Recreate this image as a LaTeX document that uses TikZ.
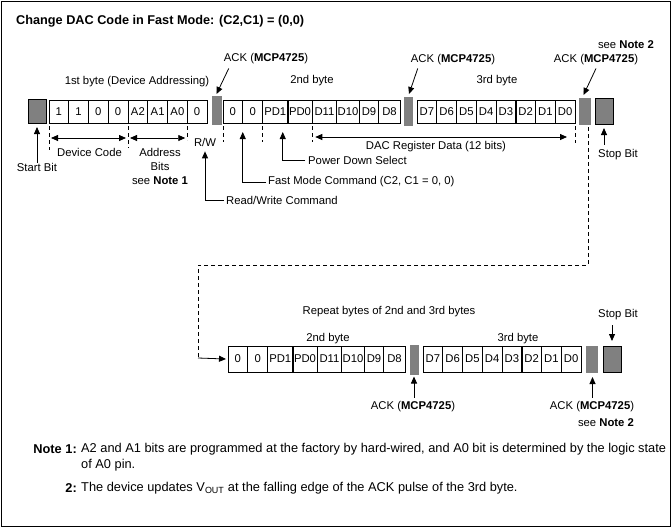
\documentclass[tikz,border=0pt]{standalone}
\usepackage{fontspec}
\setmainfont{Liberation Sans}
\usepackage{tikz}
\usetikzlibrary{arrows.meta,positioning}

\definecolor{slotgray}{RGB}{128,128,128}

\begin{document}
\begin{tikzpicture}[x=1pt,y=-1pt,
		every node/.style={font=\fontsize{11.3}{13}\selectfont, inner sep=0pt},
		bit/.style={draw, line width=0.8pt, outer sep=0pt, minimum width=19.75pt, minimum height=23pt},
		rbit/.style={bit, minimum height=26pt},
		slot/.style={fill=slotgray, draw=slotgray, line width=0.8pt, outer sep=0pt},
		tip/.style={-{Triangle[length=7pt,width=6pt]}, line width=0.8pt},
		both/.style={{Triangle[length=7pt,width=6pt]}-{Triangle[length=7pt,width=6pt]}, line width=0.8pt},
		tick/.style={line width=0.8pt, dash pattern=on 4pt off 3pt},
		notefont/.style={font=\fontsize{12.8}{15}\selectfont}]
	\useasboundingbox (0,0) rectangle (672,528);
	\draw[line width=1pt] (1,1) rectangle (670,526);

	\node[anchor=west, font=\fontsize{12.7}{15}\selectfont\bfseries] (title) at (16,21) {Change DAC Code in Fast Mode: (C2,C1) = (0,0)};

	% first frame
	\node[slot, draw=black, minimum width=18pt, minimum height=24pt] (start) at (37,111) {};
	\node[bit, anchor=west] (dc3) at (49,111.5) {1};
	\node[bit, right=0pt of dc3] (dc2) {1};
	\node[bit, right=0pt of dc2] (dc1) {0};
	\node[bit, right=0pt of dc1] (dc0) {0};
	\node[bit, right=0pt of dc0] (a2) {A2};
	\node[bit, right=0pt of a2] (a1) {A1};
	\node[bit, right=0pt of a1] (a0) {A0};
	\node[bit, right=0pt of a0] (rw) {0};
	\node[slot, minimum width=9pt, minimum height=28pt] (acka) at (216.5,110) {};

	\node[bit, anchor=west] (c2) at (223,111.5) {0};
	\node[bit, right=0pt of c2, minimum width=20pt] (c1) {0};
	\node[bit, right=0pt of c1, minimum width=25pt] (pd1) {PD1};
	\node[bit, right=0pt of pd1, minimum width=24.5pt] (pd0) {PD0};
	\node[bit, right=0pt of pd0, minimum width=24.5pt] (d11) {D11};
	\node[bit, right=0pt of d11, minimum width=22.5pt] (d10) {D10};
	\node[bit, right=0pt of d10, minimum width=19.5pt] (d9) {D9};
	\node[bit, right=0pt of d9, minimum width=21.5pt] (d8) {D8};
	\node[slot, minimum width=8pt, minimum height=28pt] (ackb) at (408,111) {};

	\node[bit, anchor=west] (d7) at (417,111.5) {D7};
	\node[bit, right=0pt of d7] (d6) {D6};
	\node[bit, right=0pt of d6] (d5) {D5};
	\node[bit, right=0pt of d5] (d4) {D4};
	\node[bit, right=0pt of d4] (d3) {D3};
	\node[bit, right=0pt of d3] (d2) {D2};
	\node[bit, right=0pt of d2] (d1) {D1};
	\node[bit, right=0pt of d1] (d0) {D0};
	\node[slot, minimum width=11pt, minimum height=26pt] (ackc) at (584.5,111) {};
	\node[slot, draw=black, minimum width=18pt, minimum height=26pt] (stop) at (604,111) {};

	\draw[line width=1.6pt] (pd1.north east) -- (pd1.south east);
	\draw[line width=1.6pt] (d3.north east) -- (d3.south east);

	% labels above
	\node (byte1) at (137,82) {1st byte (Device Addressing)};
	\node (byte2) at (312,81) {2nd byte};
	\node (byte3) at (497,81) {3rd byte};
	\node (acklbla) at (266,59) {ACK (\textbf{MCP4725})};
	\node (acklblb) at (453,60) {ACK (\textbf{MCP4725})};
	\node (acklblc) at (596,60) {ACK (\textbf{MCP4725})};
	\node (note2a) at (626,45) {see \textbf{Note 2}};

	\draw[tip] ([xshift=5pt,yshift=-4pt]acklbla.south west) -- ([yshift=2pt]acka.north);
	\draw[tip] ([xshift=7pt,yshift=-3pt]acklblb.south west) -- ([xshift=1pt,yshift=3pt]ackb.north);
	\draw[tip] ([yshift=-3pt]acklblc.south) -- ([xshift=-1pt,yshift=3pt]ackc.north);

	% labels below
	\node (startlbl) at (37,167) {Start Bit};
	\draw[tip] (startlbl.north) -- ([yshift=-4pt]start.south);

	\draw[tick] ([yshift=-3pt]dc3.south west) -- ++(0,24);
	\draw[tick] ([yshift=-3pt]dc0.south east) -- ++(0,22);
	\draw[tick] ([yshift=-3pt]rw.south west) -- ++(0,14);
	\draw[both] ([xshift=2pt,yshift=-15pt]dc3.south west) -- ([xshift=-2pt,yshift=-15pt]dc0.south east);
	\draw[both] ([xshift=2pt,yshift=-15pt]a2.south west) -- ([xshift=-2pt,yshift=-15pt]a0.south east);
	\node (devcode) at (89.5,152) {Device Code};
	\node[align=center, font=\fontsize{11.3}{14}\selectfont] (addr) at (160,166) {Address\\Bits\\see \textbf{Note 1}};

	\node (rwlbl) at (205,142) {R/W};
	\node[anchor=west] (rwcmd) at (226,200) {Read/Write Command};
	\draw[tip] ([xshift=-2pt]rwcmd.west) -| ([yshift=-5pt]rwlbl.south);

	\draw[tick] ([yshift=-3pt]c2.south west) -- ++(0,16);
	\draw[tick] ([yshift=-3pt]pd1.south west) -- ++(0,16);
	\draw[tick] ([yshift=-3pt]d11.south west) -- ++(0,16);
	\draw[tick] ([yshift=-3pt]d0.south east) -- ++(0,17);

	\node[anchor=west] (fastlbl) at (268,182) {Fast Mode Command (C2, C1 = 0, 0)};
	\draw[tip] ([xshift=-2pt]fastlbl.west) -| ([yshift=-9pt]c1.south west);
	\node[anchor=west] (pdlbl) at (308,160) {Power Down Select};
	\draw[tip] ([xshift=-3pt]pdlbl.west) -| ([xshift=-5pt,yshift=-9pt]pd1.south east);

	\draw[both] ([xshift=3pt,yshift=-14pt]d11.south west) -- ([xshift=-8pt,yshift=-14pt]d0.south east);
	\node (daclbl) at (436,147) {DAC Register Data (12 bits)};

	\node (stoplbl) at (618,155) {Stop Bit};
	\draw[tip] ([yshift=5pt]stop.south |- stoplbl.north) -- ([yshift=-4pt]stop.south);

	% back to the repeated bytes
	\coordinate (back) at (198,358);
	\draw[tick] ([xshift=-2pt,yshift=-3pt]ackc.south east) -- ++(0,138) -| (back);

	% second frame
	\node (repeat) at (389,312) {Repeat bytes of 2nd and 3rd bytes};
	\node (rbyte2) at (328,339) {2nd byte};
	\node (rbyte3) at (518,339) {3rd byte};

	\node[rbit, anchor=west] (rc2) at (228,359) {0};
	\node[rbit, right=0pt of rc2, minimum width=20pt] (rc1) {0};
	\node[rbit, right=0pt of rc1, minimum width=25pt] (rpd1) {PD1};
	\node[rbit, right=0pt of rpd1, minimum width=24.5pt] (rpd0) {PD0};
	\node[rbit, right=0pt of rpd0, minimum width=24.5pt] (rd11) {D11};
	\node[rbit, right=0pt of rd11, minimum width=22.5pt] (rd10) {D10};
	\node[rbit, right=0pt of rd10, minimum width=19.5pt] (rd9) {D9};
	\node[rbit, right=0pt of rd9, minimum width=21.5pt] (rd8) {D8};
	\node[slot, minimum width=8pt, minimum height=29pt] (rackb) at (414,360) {};

	\node[rbit, anchor=west] (rd7) at (423,359) {D7};
	\node[rbit, right=0pt of rd7] (rd6) {D6};
	\node[rbit, right=0pt of rd6] (rd5) {D5};
	\node[rbit, right=0pt of rd5] (rd4) {D4};
	\node[rbit, right=0pt of rd4] (rd3) {D3};
	\node[rbit, right=0pt of rd3] (rd2) {D2};
	\node[rbit, right=0pt of rd2] (rd1) {D1};
	\node[rbit, right=0pt of rd1] (rd0) {D0};
	\node[slot, minimum width=11pt, minimum height=26pt] (rackc) at (591.5,359) {};
	\node[slot, draw=black, minimum width=18pt, minimum height=26pt] (rstop) at (612,359) {};

	\draw[line width=1.6pt] (rpd1.north east) -- (rpd1.south east);
	\draw[line width=1.6pt] (rd3.north east) -- (rd3.south east);

	\draw[tip] (back) -- ([xshift=-2pt]rc2.west);

	\node (rstoplbl) at (618,315) {Stop Bit};
	\draw[tip] ([yshift=-5pt]rstop.north |- rstoplbl.south) -- ([yshift=5pt]rstop.north);

	\node (racklblb) at (413,407) {ACK (\textbf{MCP4725})};
	\node (racklblc) at (592,407) {ACK (\textbf{MCP4725})};
	\node (note2b) at (606,423) {see \textbf{Note 2}};
	\draw[tip] ([yshift=4pt]rackb.south |- racklblb.north) -- ([yshift=-2pt]rackb.south);
	\draw[tip] ([xshift=1pt,yshift=4pt]rackc.south |- racklblc.north) -- ([xshift=1pt,yshift=-5pt]rackc.south);

	% notes
	\node[notefont, anchor=east] (note1) at (77,449) {\textbf{Note 1:}};
	\node[notefont, anchor=west] (note1txt) at (81,449) {A2 and A1 bits are programmed at the factory by hard-wired, and A0 bit is determined by the logic state};
	\node[notefont, anchor=west] (note1more) at (81,465) {of A0 pin.};
	\node[notefont, anchor=east] (note2) at (77,488) {\textbf{2:}};
	\node[notefont, anchor=west] (note2txt) at (81,488) {The device updates V\textsubscript{OUT} at the falling edge of the ACK pulse of the 3rd byte.};
\end{tikzpicture}
\end{document}
